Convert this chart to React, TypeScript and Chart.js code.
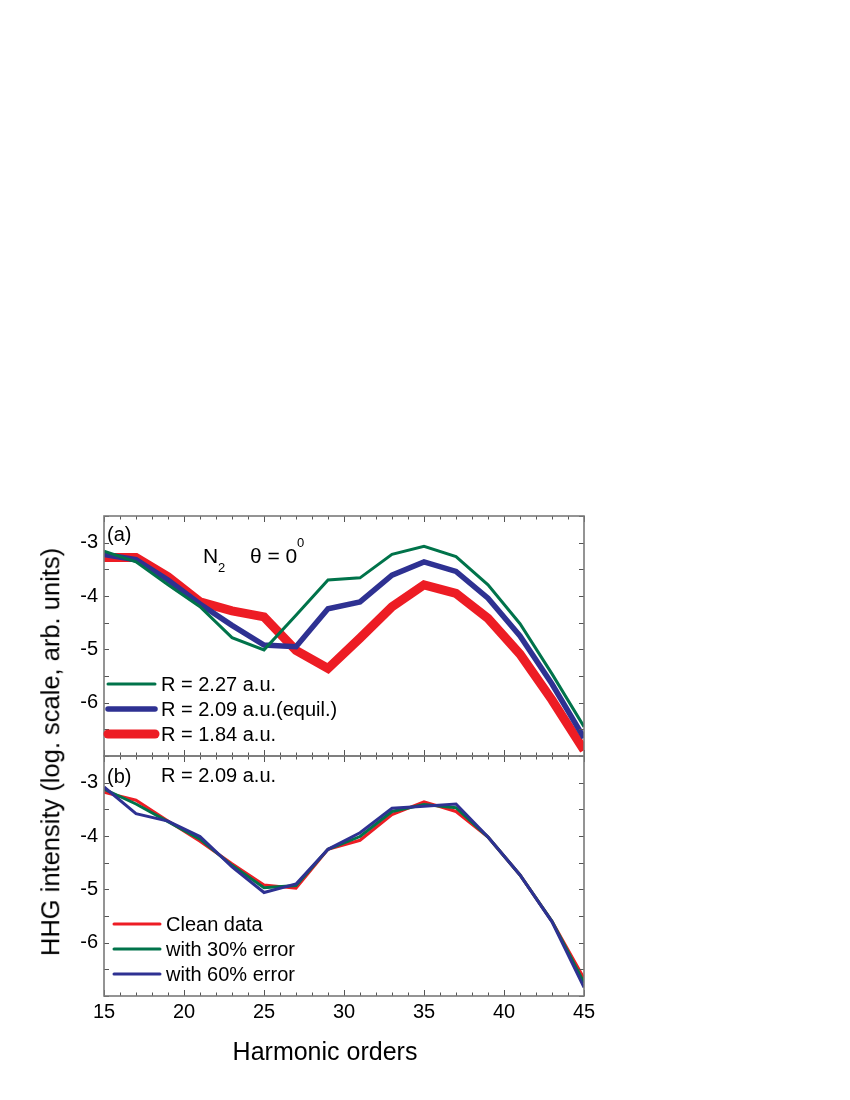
import React, { useEffect, useRef } from 'react';
import { Chart, registerables } from 'chart.js';

Chart.register(...registerables);

// ---------- data ----------
const harmonics = [15, 17, 19, 21, 23, 25, 27, 29, 31, 33, 35, 37, 39, 41, 43, 45];

// panel (a)
const aR227 = [-3.16, -3.36, -3.79, -4.2, -4.78, -5.01, -4.36, -3.7, -3.66, -3.22, -3.07, -3.26, -3.79, -4.52, -5.46, -6.45];
const aR209 = [-3.22, -3.32, -3.7, -4.15, -4.55, -4.92, -4.95, -4.24, -4.11, -3.61, -3.36, -3.54, -4.04, -4.75, -5.65, -6.66];
const aR184 = [-3.28, -3.28, -3.64, -4.11, -4.28, -4.39, -5.02, -5.36, -4.79, -4.2, -3.79, -3.95, -4.42, -5.09, -5.95, -6.89];

// panel (b)
const bClean = [-3.18, -3.33, -3.72, -4.1, -4.52, -4.92, -4.98, -4.25, -4.08, -3.6, -3.36, -3.54, -4.02, -4.73, -5.6, -6.67];
const bErr30 = [-3.12, -3.4, -3.73, -4.06, -4.55, -4.97, -4.93, -4.25, -4.01, -3.54, -3.41, -3.47, -4.02, -4.73, -5.6, -6.75];
const bErr60 = [-3.08, -3.58, -3.72, -4.01, -4.58, -5.06, -4.9, -4.25, -3.94, -3.48, -3.44, -3.4, -4.02, -4.73, -5.61, -6.84];

const xTickLabels = [15, 20, 25, 30, 35, 40, 45];
const yTickLabels = [-6, -5, -4, -3];

const labelsA = ['R = 2.27 a.u.', 'R = 2.09 a.u.(equil.)', 'R = 1.84 a.u.'];
const labelsB = ['Clean data', 'with 30% error', 'with 60% error'];

const GREEN = '#00734A';
const BLUE = '#2E3192';
const RED = '#ED1C24';
const FONT = "'Liberation Sans', Arial, Helvetica, sans-serif";

const toPts = (vals: number[]) => harmonics.map((h, i) => ({ x: h, y: vals[i] }));

// ---------- plugin: frame, inward ticks, legend ----------
const framePlugin = {
  id: 'frame',
  afterDraw(chart: any, _args: any, opts: any) {
    const { ctx, chartArea: a, scales } = chart;
    const xs = scales.x;
    const ys = scales.y;
    ctx.save();
    ctx.strokeStyle = '#555';
    ctx.lineWidth = 1;
    const seg = (x1: number, y1: number, x2: number, y2: number) => {
      ctx.beginPath();
      ctx.moveTo(x1, y1);
      ctx.lineTo(x2, y2);
      ctx.stroke();
    };
    for (let v = 15; v <= 45; v += 1) {
      const px = Math.round(xs.getPixelForValue(v)) + 0.5;
      const len = v % 5 === 0 ? 6 : 3.5;
      seg(px, a.top, px, a.top + len);
      seg(px, a.bottom, px, a.bottom - len);
    }
    for (let v = -7; v <= -2.5; v += 0.5) {
      const py = Math.round(ys.getPixelForValue(v)) + 0.5;
      seg(a.left, py, a.left + 5, py);
      seg(a.right, py, a.right - 5, py);
    }
    ctx.strokeStyle = '#7a7a7a';
    ctx.lineWidth = 1.6;
    ctx.strokeRect(a.left, a.top, a.right - a.left, a.bottom - a.top);

    const lg = opts && opts.legend;
    if (lg) {
      ctx.font = `20px ${FONT}`;
      ctx.textBaseline = 'middle';
      ctx.textAlign = 'left';
      ctx.fillStyle = '#000';
      chart.data.datasets.forEach((ds: any, i: number) => {
        const y = lg.ys[i];
        ctx.strokeStyle = ds.borderColor;
        ctx.lineWidth = ds.borderWidth;
        ctx.lineCap = 'round';
        seg(lg.x1, y, lg.x2, y);
        ctx.fillText(ds.label, lg.tx, y + 1);
      });
    }
    ctx.restore();
  },
};

const yAxis = () => ({
  type: 'linear' as const,
  min: -7,
  max: -2.5,
  grid: { display: false, drawTicks: false },
  border: { display: false },
  afterFit: (s: any) => {
    s.width = 40;
  },
  afterBuildTicks: (s: any) => {
    s.ticks = yTickLabels.map((v) => ({ value: v }));
  },
  ticks: {
    padding: 6,
    color: '#000',
    font: { family: FONT, size: 20 },
    callback: (v: any) => String(v),
  },
});

function lineDs(label: string, vals: number[], color: string, width: number, order: number) {
  return {
    label,
    data: toPts(vals),
    borderColor: color,
    backgroundColor: color,
    borderWidth: width,
    pointRadius: 0,
    tension: 0,
    fill: false,
    order,
  };
}

export default function App() {
  const refA = useRef<HTMLCanvasElement>(null);
  const refB = useRef<HTMLCanvasElement>(null);

  useEffect(() => {
    const chartA = new Chart(refA.current as HTMLCanvasElement, {
      type: 'line',
      data: {
        datasets: [
          lineDs(labelsA[0], aR227, GREEN, 3, 1),
          lineDs(labelsA[1], aR209, BLUE, 5.5, 2),
          lineDs(labelsA[2], aR184, RED, 9, 3),
        ],
      },
      options: {
        responsive: false,
        animation: false,
        devicePixelRatio: 1,
        layout: { padding: { left: 64, right: 266, top: 516, bottom: 344 } },
        plugins: {
          legend: { display: false },
          tooltip: { enabled: false },
          frame: { legend: { x1: 108, x2: 155, tx: 161, ys: [684, 709, 734] } },
        },
        scales: {
          x: { type: 'linear', min: 15, max: 45, display: false },
          y: yAxis(),
        },
      } as any,
      plugins: [framePlugin],
    });

    const chartB = new Chart(refB.current as HTMLCanvasElement, {
      type: 'line',
      data: {
        datasets: [
          lineDs(labelsB[0], bClean, RED, 3, 3),
          lineDs(labelsB[1], bErr30, GREEN, 3, 2),
          lineDs(labelsB[2], bErr60, BLUE, 3, 1),
        ],
      },
      options: {
        responsive: false,
        animation: false,
        devicePixelRatio: 1,
        layout: { padding: { left: 64, right: 266, top: 756, bottom: 64 } },
        plugins: {
          legend: { display: false },
          tooltip: { enabled: false },
          frame: { legend: { x1: 114, x2: 160, tx: 166, ys: [924, 949, 974] } },
        },
        scales: {
          x: {
            type: 'linear',
            min: 15,
            max: 45,
            grid: { display: false, drawTicks: false },
            border: { display: false },
            afterBuildTicks: (s: any) => {
              s.ticks = xTickLabels.map((v) => ({ value: v }));
            },
            afterFit: (s: any) => {
              s.height = 40;
            },
            ticks: {
              padding: 4,
              autoSkip: false,
              maxRotation: 0,
              color: '#000',
              font: { family: FONT, size: 20 },
            },
          },
          y: yAxis(),
        },
      } as any,
      plugins: [framePlugin],
    });

    return () => {
      chartA.destroy();
      chartB.destroy();
    };
  }, []);

  const txt = (style: React.CSSProperties, content: React.ReactNode) => (
    <div
      style={{
        position: 'absolute',
        fontFamily: FONT,
        lineHeight: 1,
        whiteSpace: 'nowrap',
        color: '#000',
        ...style,
      }}
    >
      {content}
    </div>
  );

  return (
    <div style={{ position: 'absolute', left: 0, top: 0, width: 850, height: 1100, background: '#fff' }}>
      <canvas ref={refA} width={850} height={1100} style={{ position: 'absolute', left: 0, top: 0 }} />
      <canvas ref={refB} width={850} height={1100} style={{ position: 'absolute', left: 0, top: 0 }} />
      {/* y axis title spanning both panels */}
      <div
        style={{
          position: 'absolute',
          left: 51,
          top: 752,
          transform: 'translate(-50%, -50%) rotate(-90deg)',
          fontFamily: FONT,
          fontSize: 25.5,
          lineHeight: 1,
          whiteSpace: 'nowrap',
          color: '#000',
        }}
      >
        HHG intensity (log. scale, arb. units)
      </div>
      {/* x axis title */}
      <div
        style={{
          position: 'absolute',
          left: 325,
          top: 1039,
          transform: 'translateX(-50%)',
          fontFamily: FONT,
          fontSize: 25,
          lineHeight: 1,
          whiteSpace: 'nowrap',
          color: '#000',
        }}
      >
        Harmonic orders
      </div>
      {/* panel (a) annotations */}
      {txt({ left: 107, top: 524, fontSize: 20 }, '(a)')}
      {txt({ left: 203, top: 545, fontSize: 21 }, 'N')}
      {txt({ left: 218, top: 561, fontSize: 13 }, '2')}
      {txt({ left: 250, top: 545, fontSize: 21 }, 'θ = 0')}
      {txt({ left: 297, top: 536, fontSize: 13 }, '0')}
      {/* panel (b) annotations */}
      {txt({ left: 107, top: 766, fontSize: 20 }, '(b)')}
      {txt({ left: 161, top: 765, fontSize: 20 }, 'R = 2.09 a.u.')}
    </div>
  );
}
